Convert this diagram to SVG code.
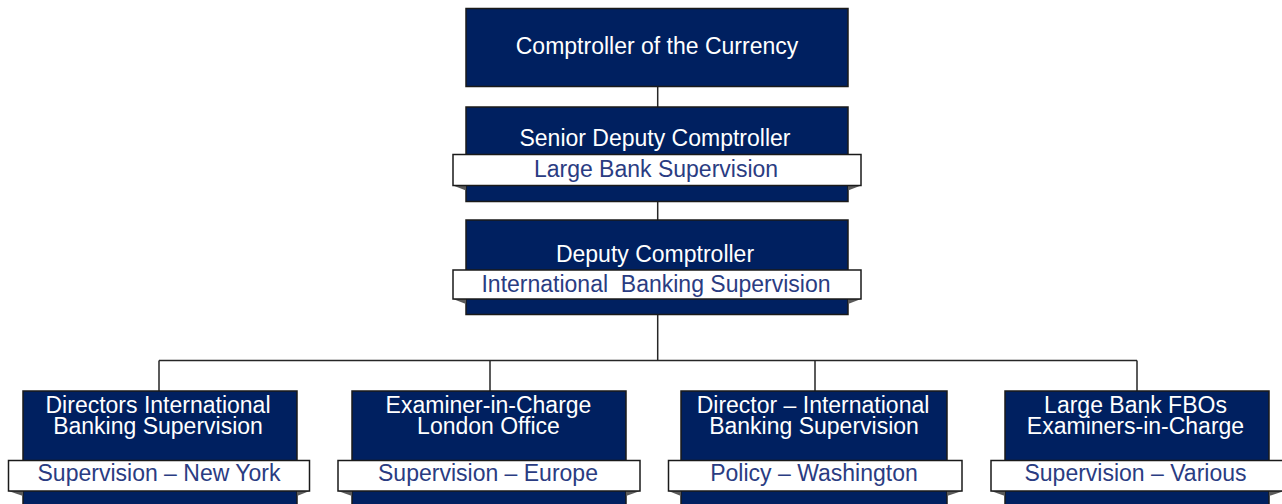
<svg xmlns="http://www.w3.org/2000/svg" width="1282" height="504" viewBox="0 0 1282 504">
<style>
.box{fill:#002060;stroke:#1a1a1a;stroke-width:1.5}
.rib{fill:#ffffff;stroke:#1a1a1a;stroke-width:1.5}
.fold{fill:#5a5a5a}
.t{font-family:"Liberation Sans",Arial,sans-serif;font-size:23px;fill:#ffffff;text-anchor:middle}
.r{font-family:"Liberation Sans",Arial,sans-serif;font-size:23px;fill:#2a3c82;text-anchor:middle}
.c{fill:none;stroke:#262626;stroke-width:1.5}
</style>
<rect width="1282" height="504" fill="#ffffff"/>
<g id="connectors">
<path class="c" d="M657.7 86.5V107M657.7 201.7V220M657.7 314.5V360.5M159 360.5H1137M159 360.5V391M490 360.5V391M815 360.5V391M1137 360.5V391"/>
</g>
<g id="comptroller">
<rect class="box" x="466" y="8.5" width="382" height="78"/>
<text class="t" x="657" y="53.5">Comptroller of the Currency</text>
</g>
<g id="senior-deputy">
<rect class="box" x="466" y="107" width="382" height="94.5"/>
<text class="t" x="655" y="145.5">Senior Deputy Comptroller</text>
<polygon class="fold" points="453,185.5 466,185.5 466,190.5"/>
<polygon class="fold" points="861,185.5 848,185.5 848,190.5"/>
<rect class="rib" x="453" y="154.5" width="408" height="31"/>
<text class="r" x="656" y="176.5">Large Bank Supervision</text>
</g>
<g id="deputy">
<rect class="box" x="466" y="220" width="382" height="94.5"/>
<text class="t" x="655" y="261.5">Deputy Comptroller</text>
<polygon class="fold" points="453,299 466,299 466,304"/>
<polygon class="fold" points="861,299 848,299 848,304"/>
<rect class="rib" x="453" y="270" width="408" height="29"/>
<text class="r" x="656" y="291.5" xml:space="preserve">International  Banking Supervision</text>
</g>
<g id="directors-ny">
<rect class="box" x="23" y="391" width="274" height="120"/>
<text class="t" x="158" y="412.8">Directors International</text>
<text class="t" x="158" y="434">Banking Supervision</text>
<polygon class="fold" points="8.5,491 23,491 23,496"/>
<polygon class="fold" points="309.5,491 297,491 297,496"/>
<rect class="rib" x="8.5" y="460.5" width="301" height="30.5"/>
<text class="r" x="159" y="481">Supervision – New York</text>
</g>
<g id="eic-london">
<rect class="box" x="352" y="391" width="274" height="120"/>
<text class="t" x="488.5" y="412.8">Examiner-in-Charge</text>
<text class="t" x="488.5" y="434">London Office</text>
<polygon class="fold" points="338,491 352,491 352,496"/>
<polygon class="fold" points="640,491 626,491 626,496"/>
<rect class="rib" x="338" y="460.5" width="302" height="30.5"/>
<text class="r" x="488" y="481">Supervision – Europe</text>
</g>
<g id="director-policy">
<rect class="box" x="681" y="391" width="266" height="120"/>
<text class="t" x="813" y="412.8">Director – International</text>
<text class="t" x="814" y="434">Banking Supervision</text>
<polygon class="fold" points="668.5,491 681,491 681,496"/>
<polygon class="fold" points="962,491 947,491 947,496"/>
<rect class="rib" x="668.5" y="460.5" width="293.5" height="30.5"/>
<text class="r" x="814" y="481">Policy – Washington</text>
</g>
<g id="large-bank-fbos">
<rect class="box" x="1005" y="391" width="264" height="120"/>
<text class="t" x="1135.5" y="412.8">Large Bank FBOs</text>
<text class="t" x="1135.5" y="434">Examiners-in-Charge</text>
<polygon class="fold" points="991,491 1005,491 1005,496"/>
<polygon class="fold" points="1284,491 1269,491 1269,496"/>
<rect class="rib" x="991" y="460.5" width="295" height="30.5"/>
<text class="r" x="1135.5" y="481">Supervision – Various</text>
</g>
</svg>
